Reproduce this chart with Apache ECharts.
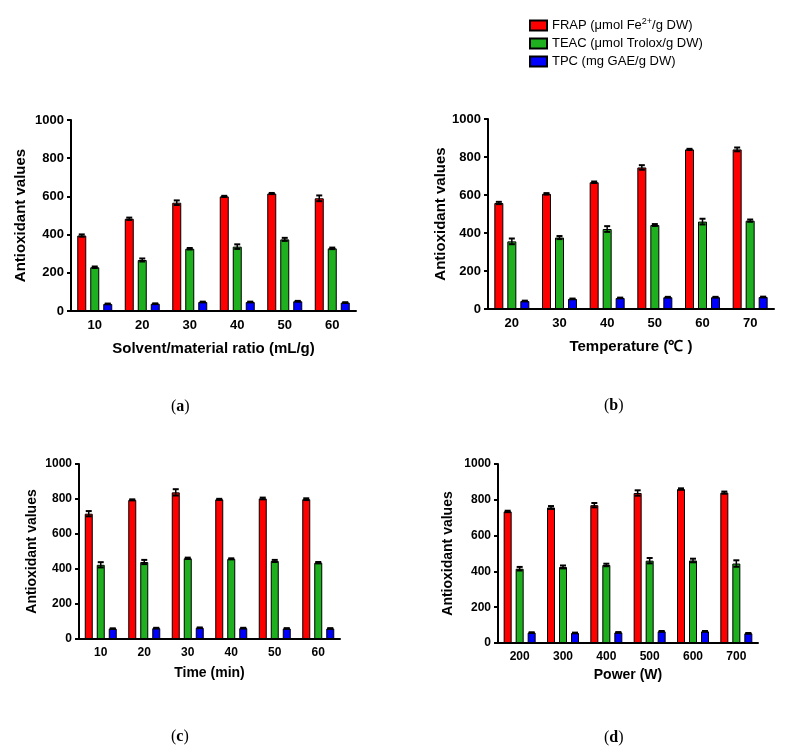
<!DOCTYPE html>
<html>
<head>
<meta charset="utf-8">
<script src="https://cdn.jsdelivr.net/npm/echarts@6/dist/echarts.min.js"></script>
<style>html,body{margin:0;padding:0;background:#fff}#c{width:788px;height:750px}</style>
</head>
<body>
<div id="c"></div>
<script>
const seriesNames = ['FRAP (μmol Fe2+/g DW)', 'TEAC (μmol Trolox/g DW)', 'TPC (mg GAE/g DW)'];
const yTicks = [0, 200, 400, 600, 800, 1000];

const catsA = ['10', '20', '30', '40', '50', '60'];
const frapA = [395, 483, 567, 600, 615, 590];
const frapErrA = [6, 6, 12, 3, 3, 15];
const teacA = [229, 267, 326, 337, 375, 328];
const teacErrA = [4, 8, 4, 12, 8, 4];
const tpcA = [37, 38, 47, 47, 51, 44];
const tpcErrA = [2, 2, 2, 2, 2, 2];

const catsB = ['20', '30', '40', '50', '60', '70'];
const frapB = [558, 606, 667, 745, 840, 840];
const frapErrB = [6, 4, 4, 12, 3, 10];
const teacB = [356, 376, 421, 442, 460, 465];
const teacErrB = [15, 8, 15, 5, 15, 6];
const tpcB = [42, 53, 58, 62, 62, 63];
const tpcErrB = [2, 2, 2, 2, 2, 2];

const catsC = ['10', '20', '30', '40', '50', '60'];
const frapC = [716, 795, 838, 798, 803, 799];
const frapErrC = [15, 3, 18, 3, 5, 5];
const teacC = [424, 440, 461, 458, 446, 436];
const teacErrC = [15, 12, 4, 3, 6, 4];
const tpcC = [59, 62, 64, 62, 60, 60];
const tpcErrC = [2, 2, 2, 2, 2, 2];

const catsD = ['200', '300', '400', '500', '600', '700'];
const frapD = [735, 757, 770, 838, 860, 840];
const frapErrD = [4, 8, 12, 15, 4, 6];
const teacD = [415, 425, 436, 460, 461, 444];
const teacErrD = [10, 8, 7, 15, 10, 18];
const tpcD = [58, 56, 59, 65, 65, 54];
const tpcErrD = [2, 2, 2, 2, 2, 2];

const xNames = ['Solvent/material ratio (mL/g)', 'Temperature (\u2103 )', 'Time (min)', 'Power (W)'];
const captions = ['a', 'b', 'c', 'd'];

const colors = ['#ff0000', '#1eb01e', '#0000ff'];
const FONT = '"Liberation Sans", Arial, sans-serif';

const panels = [
  { cats: catsA, vals: [frapA, teacA, tpcA], errs: [frapErrA, teacErrA, tpcErrA],
    grid: { left: 71, top: 120, width: 285, height: 191 }, bw: 9, step: 13, fs: 13, nfs: 15, yGap: 43, xGap: 30, cap: [181, 407] },
  { cats: catsB, vals: [frapB, teacB, tpcB], errs: [frapErrB, teacErrB, tpcErrB],
    grid: { left: 488, top: 119, width: 286, height: 190 }, bw: 9, step: 13, fs: 13, nfs: 15, yGap: 40, xGap: 30, cap: [614, 406] },
  { cats: catsC, vals: [frapC, teacC, tpcC], errs: [frapErrC, teacErrC, tpcErrC],
    grid: { left: 79, top: 464, width: 261, height: 175 }, bw: 8, step: 12, fs: 12, nfs: 14, yGap: 40, xGap: 27, cap: [181, 737] },
  { cats: catsD, vals: [frapD, teacD, tpcD], errs: [frapErrD, teacErrD, tpcErrD],
    grid: { left: 498, top: 464, width: 260, height: 179 }, bw: 8, step: 12, fs: 12, nfs: 14, yGap: 43, xGap: 25, cap: [614, 738] }
];

const grids = [], xAxes = [], yAxes = [], series = [], graphics = [];
panels.forEach((p, gi) => {
  grids.push(p.grid);
  xAxes.push({
    type: 'category', gridIndex: gi, data: p.cats,
    name: xNames[gi], nameLocation: 'middle', nameGap: p.xGap,
    nameTextStyle: { fontFamily: FONT, fontWeight: 'bold', fontSize: p.nfs, color: '#000' },
    axisLine: { lineStyle: { color: '#000', width: 2 } },
    axisTick: { alignWithLabel: true, length: 4, lineStyle: { color: '#000', width: 2 } },
    axisLabel: { fontFamily: FONT, fontWeight: 'bold', fontSize: p.fs, color: '#000', margin: 8 },
    splitLine: { show: false }
  });
  yAxes.push({
    type: 'value', gridIndex: gi, min: 0, max: 1000, interval: 200,
    name: 'Antioxidant values', nameLocation: 'middle', nameGap: p.yGap, nameRotate: 90,
    nameTextStyle: { fontFamily: FONT, fontWeight: 'bold', fontSize: p.nfs, color: '#000' },
    axisLine: { show: true, lineStyle: { color: '#000', width: 2 } },
    axisTick: { show: true, length: 4, lineStyle: { color: '#000', width: 2 } },
    axisLabel: { fontFamily: FONT, fontWeight: 'bold', fontSize: p.fs, color: '#000', margin: 7,
      formatter: v => String(v) },
    splitLine: { show: false }
  });
  p.vals.forEach((vals, si) => {
    series.push({
      name: seriesNames[si], type: 'bar', xAxisIndex: gi, yAxisIndex: gi,
      data: vals, barWidth: p.bw, barGap: ((p.step - p.bw) / p.bw * 100) + '%',
      itemStyle: { color: colors[si], borderColor: '#000', borderWidth: 1 },
      emphasis: { disabled: true }, animation: false
    });
  });
  p.vals.forEach((vals, si) => {
    const offset = (si - 1) * p.step;
    const errs = p.errs[si];
    series.push({
      type: 'custom', xAxisIndex: gi, yAxisIndex: gi, z: 5, animation: false,
      data: vals.map((v, i) => [i, v, errs[i]]),
      renderItem: function (params, api) {
        const idx = api.value(0), v = api.value(1), e = api.value(2);
        const top = api.coord([idx, v + e]);
        const bot = api.coord([idx, v - e]);
        const x = top[0] + offset;
        const hw = 3;
        return {
          type: 'group',
          children: [
            { type: 'line', shape: { x1: x, y1: top[1], x2: x, y2: bot[1] }, style: { stroke: '#000', lineWidth: 1.5 } },
            { type: 'line', shape: { x1: x - hw, y1: top[1], x2: x + hw, y2: top[1] }, style: { stroke: '#000', lineWidth: 2 } },
            { type: 'line', shape: { x1: x - hw, y1: bot[1], x2: x + hw, y2: bot[1] }, style: { stroke: '#000', lineWidth: 2 } }
          ]
        };
      }
    });
  });
  graphics.push({
    type: 'text', left: p.cap[0] - 10, top: p.cap[1] - 8,
    style: {
      text: '{p|(}{b|' + captions[gi] + '}{p|)}',
      rich: {
        p: { fontFamily: '"Liberation Serif", "DejaVu Serif", serif', fontSize: 16, fill: '#000' },
        b: { fontFamily: '"Liberation Serif", "DejaVu Serif", serif', fontSize: 16, fontWeight: 'bold', fill: '#000' }
      }
    }
  });
});

const legendRich = {
  a: { fontFamily: FONT, fontSize: 13, color: '#000' },
  sup: { fontFamily: FONT, fontSize: 9, color: '#000', padding: [0, 0, 8, 0] }
};
function legendFmt(name) {
  if (name.indexOf('Fe2+') >= 0) {
    return '{a|FRAP (μmol Fe}{sup|2+}{a|/g DW)}';
  }
  return '{a|' + name + '}';
}
const legendTops = [12, 32, 50];
const legends = seriesNames.map((n, i) => ({
  data: [n], left: 524, top: legendTops[i], orient: 'vertical',
  icon: 'rect', itemWidth: 17, itemHeight: 10, itemGap: 0,
  selectedMode: false, formatter: legendFmt,
  textStyle: { rich: legendRich, fontFamily: FONT, fontSize: 13, color: '#000', padding: [0, 0, 0, 0] }
}));

const chart = echarts.init(document.getElementById('c'), null, { renderer: 'canvas' });
chart.setOption({
  animation: false,
  backgroundColor: '#fff',
  legend: legends,
  grid: grids, xAxis: xAxes, yAxis: yAxes, series: series,
  graphic: graphics
});
</script>
</body>
</html>
